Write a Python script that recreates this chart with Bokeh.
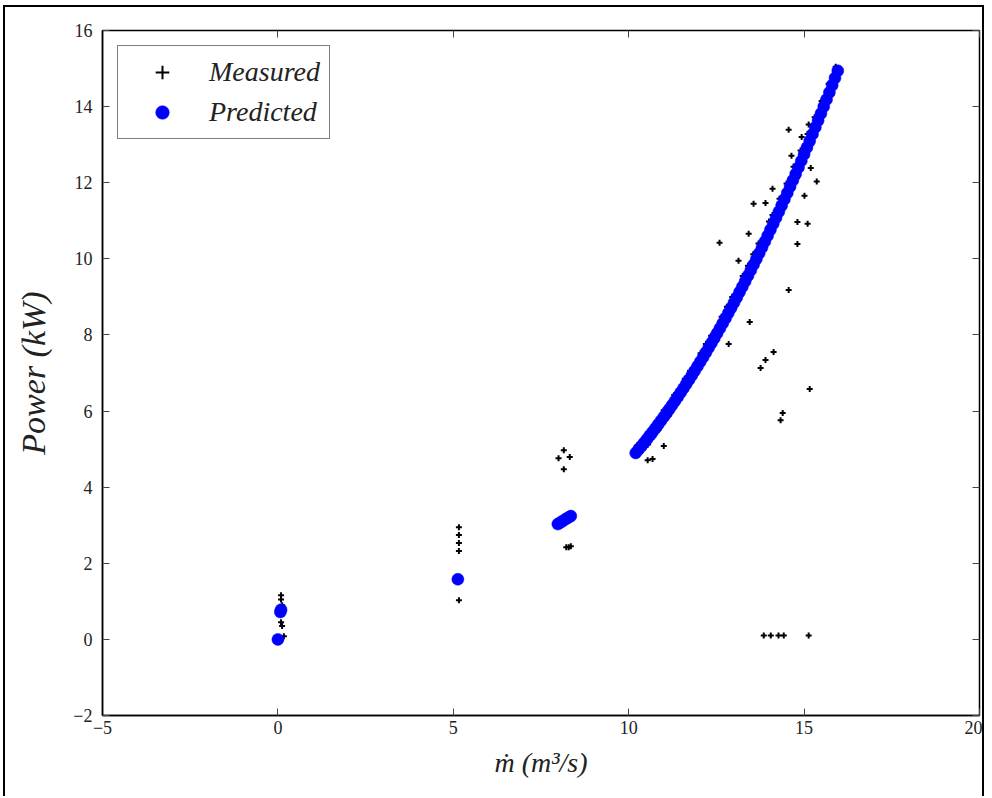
from bokeh.plotting import figure
from bokeh.models import LinearAxis, Range1d, FixedTicker, Legend, LegendItem
from bokeh.embed import file_html
from bokeh.resources import INLINE

# ---- data ----
pred_x = [0.00, 0.07, 0.09, 5.13, 7.98, 8.05, 8.12, 8.20, 8.28, 8.35,
          10.20, 10.28, 10.36, 10.44, 10.52, 10.60, 10.68, 10.76, 10.84, 10.92,
          11.00, 11.08, 11.16, 11.24, 11.32, 11.40, 11.48, 11.56, 11.64, 11.72,
          11.80, 11.88, 11.96, 12.04, 12.12, 12.20, 12.28, 12.36, 12.44, 12.52,
          12.60, 12.68, 12.76, 12.84, 12.92, 13.00, 13.08, 13.16, 13.24, 13.32,
          13.40, 13.48, 13.56, 13.64, 13.72, 13.80, 13.88, 13.96, 14.04, 14.12,
          14.20, 14.28, 14.36, 14.44, 14.52, 14.60, 14.68, 14.76, 14.84, 14.92,
          15.00, 15.08, 15.16, 15.24, 15.32, 15.40, 15.48, 15.56, 15.64, 15.72,
          15.80, 15.88, 15.96]
pred_y = [0.00, 0.72, 0.78, 1.58, 3.03, 3.07, 3.11, 3.16, 3.20, 3.24,
          4.900, 4.988, 5.078, 5.169, 5.262, 5.356, 5.451, 5.548, 5.646, 5.746,
          5.847, 5.950, 6.054, 6.160, 6.267, 6.375, 6.485, 6.596, 6.709, 6.823,
          6.939, 7.056, 7.175, 7.295, 7.416, 7.539, 7.663, 7.789, 7.916, 8.045,
          8.175, 8.306, 8.439, 8.574, 8.710, 8.847, 8.986, 9.126, 9.267, 9.410,
          9.555, 9.701, 9.848, 9.997, 10.147, 10.299, 10.452, 10.607, 10.763, 10.920,
          11.079, 11.240, 11.401, 11.565, 11.729, 11.896, 12.063, 12.232, 12.403, 12.574,
          12.748, 12.923, 13.099, 13.277, 13.456, 13.636, 13.818, 14.002, 14.187, 14.373,
          14.561, 14.750, 14.941]

meas_x = [0.09, 0.09, 0.09, 0.12, 0.17, 0.09, 0.12,
          5.16, 5.16, 5.16, 5.16, 5.16,
          8.15, 8.00, 8.32, 8.15, 8.22, 8.29, 8.35,
          10.25, 10.40, 10.55, 10.70, 10.85, 11.00, 11.15, 11.30, 11.45, 11.60,
          11.75, 11.90, 12.05, 12.20, 12.35, 12.50, 12.65, 12.80, 12.95, 13.10,
          13.25, 13.40, 13.55, 13.70, 13.85, 14.00, 14.10, 14.20, 14.30, 14.40,
          14.50, 14.60, 14.70, 14.80, 14.90, 15.00, 15.10, 15.20, 15.30, 15.40,
          15.50, 15.60, 15.70, 15.80, 15.90,
          14.56, 14.93, 15.13, 14.64, 15.19, 15.36, 14.10, 13.56, 13.90, 15.01,
          14.81, 15.10, 13.42, 12.59, 14.81, 13.13, 14.56, 13.45, 12.85, 13.76,
          13.90, 14.13, 15.16, 14.39, 14.33, 11.00, 10.54, 10.68,
          13.85, 14.05, 14.27, 14.42, 15.13]
meas_y = [1.16, 1.05, 0.45, 0.35, 0.08, 0.00, 0.90,
          2.95, 2.74, 2.53, 2.32, 1.03,
          4.97, 4.76, 4.79, 4.47, 2.42, 2.42, 2.45,
          5.10, 4.98, 5.12, 5.32, 5.50, 6.02, 5.88, 6.42, 6.30, 6.85,
          7.06, 6.95, 7.52, 7.76, 7.98, 7.88, 8.48, 8.74, 9.00, 8.88,
          9.55, 9.82, 10.12, 10.40, 10.25, 10.98, 11.15, 10.90, 11.58, 11.30,
          11.98, 11.70, 12.42, 12.12, 12.85, 12.55, 13.28, 13.00, 13.72, 13.45,
          14.15, 13.92, 14.60, 14.40, 15.05,
          13.39, 13.20, 13.53, 12.71, 12.39, 12.03, 11.84, 11.45, 11.47, 11.66,
          10.97, 10.92, 10.66, 10.42, 10.39, 9.95, 9.18, 8.34, 7.76, 7.13,
          7.34, 7.55, 6.58, 5.95, 5.76, 5.08, 4.71, 4.74,
          0.10, 0.10, 0.10, 0.10, 0.10]

x_ticks = [-5, 0, 5, 10, 15, 20]
y_ticks = [-2, 0, 2, 4, 6, 8, 10, 12, 14, 16]

SERIF = "Liberation Serif"

p = figure(width=981, height=791, output_backend="svg", toolbar_location=None,
           x_range=Range1d(-5, 20), y_range=Range1d(-2, 16),
           min_border_left=97, min_border_right=7, min_border_top=23, min_border_bottom=83,
           background_fill_color="white", border_fill_color="white")
p.styles = {"margin-left": "3px", "margin-top": "5px",
            "border-left": "2px solid black", "border-top": "2px solid black",
            "border-right": "2px solid black"}
p.grid.visible = False
p.outline_line_color = "black"
p.outline_line_width = 1.5

for ax in (p.xaxis[0], p.yaxis[0]):
    ax.major_tick_in = 7
    ax.major_tick_out = 0
    ax.minor_tick_line_color = None
    ax.axis_line_color = "black"
    ax.axis_line_width = 1.5
    ax.major_tick_line_color = "#444444"
    ax.major_label_text_font = SERIF
    ax.major_label_text_font_size = "18px"
    ax.major_label_text_color = "#222222"
    ax.axis_label_text_font = SERIF
    ax.axis_label_text_font_style = "italic"
    ax.axis_label_text_color = "#222222"

p.xaxis[0].ticker = FixedTicker(ticks=x_ticks)
p.yaxis[0].ticker = FixedTicker(ticks=y_ticks)
p.xaxis[0].major_label_overrides = {-5: "\u22125"}
p.yaxis[0].major_label_overrides = {-2: "\u22122"}
p.xaxis[0].axis_label = "\u1e41 (m\u00b3/s)"
p.yaxis[0].axis_label = "Power (kW)"
p.yaxis[0].axis_label_text_font_size = "34px"
p.xaxis[0].axis_label_text_font_size = "28px"
p.yaxis[0].axis_label_standoff = 18
p.xaxis[0].axis_label_standoff = 10
p.xaxis[0].major_label_standoff = 5
p.yaxis[0].major_label_standoff = 10

for side, tk in (("above", x_ticks), ("right", y_ticks)):
    a = LinearAxis(ticker=FixedTicker(ticks=tk), major_tick_in=7, major_tick_out=0,
                   minor_tick_line_color=None, axis_line_color=None,
                   major_tick_line_color="#444444",
                   major_label_overrides={t: "" for t in tk}, major_label_standoff=0)
    p.add_layout(a, side)

r_meas = p.scatter(meas_x, meas_y, marker="cross", size=6, line_color="black",
                   line_width=2)
r_pred = p.scatter(pred_x, pred_y, marker="circle", size=12, fill_color="#0000ff",
                   line_color="#0000ff", line_width=0.5)

legend = Legend(items=[LegendItem(label="Measured", renderers=[r_meas]),
                       LegendItem(label="Predicted", renderers=[r_pred])],
                location="top_left")
legend.label_text_font = SERIF
legend.label_text_font_style = "italic"
legend.label_text_font_size = "28px"
legend.label_text_color = "#222222"
legend.border_line_color = "black"
legend.border_line_width = 1.5
legend.margin = 15
legend.padding = 9
legend.spacing = 6
legend.glyph_width = 70
legend.label_standoff = 12
legend.label_height = 34
legend.glyph_height = 34
p.add_layout(legend, "center")

open("out.html", "w").write(file_html(p, INLINE))
